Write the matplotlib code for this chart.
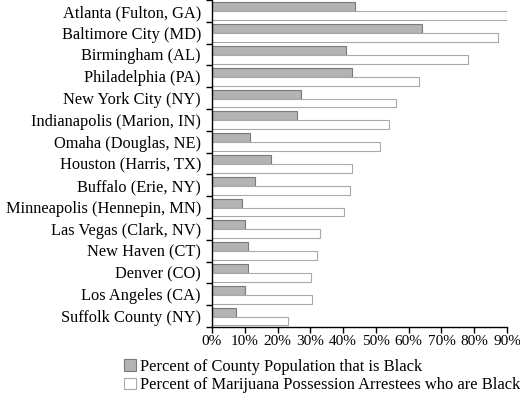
import matplotlib
matplotlib.use("Agg")
import matplotlib.pyplot as plt
import numpy as np

cities = [
    "Atlanta (Fulton, GA)",
    "Baltimore City (MD)",
    "Birmingham (AL)",
    "Philadelphia (PA)",
    "New York City (NY)",
    "Indianapolis (Marion, IN)",
    "Omaha (Douglas, NE)",
    "Houston (Harris, TX)",
    "Buffalo (Erie, NY)",
    "Minneapolis (Hennepin, MN)",
    "Las Vegas (Clark, NV)",
    "New Haven (CT)",
    "Denver (CO)",
    "Los Angeles (CA)",
    "Suffolk County (NY)",
]
pct_population = [43.7, 64.0, 41.0, 42.8, 27.0, 25.8, 11.6, 18.0, 13.0, 9.0, 10.2, 11.1, 11.1, 10.2, 7.2]
pct_arrestees = [90.0, 87.2, 78.2, 63.1, 56.1, 53.9, 51.2, 42.8, 42.2, 40.2, 33.0, 32.1, 30.3, 30.4, 23.1]
xticks = np.arange(0, 91, 10)

plt.rcParams['font.family'] = ['Liberation Serif', 'DejaVu Serif']

fig = plt.figure(figsize=(5.2, 3.95), dpi=100)
ax = fig.add_axes([212 / 520, 1 - 327 / 395, 295 / 520, 327 / 395])

y = np.arange(len(cities))
h = 0.41
ax.barh(y - h / 2 + 0.02, pct_population, height=h, color="#b3b3b3", edgecolor="#7a7a7a",
        linewidth=0.8, label="Percent of County Population that is Black")
ax.barh(y + h / 2 + 0.02, pct_arrestees, height=h, color="white", edgecolor="#a8a8a8",
        linewidth=0.8, label="Percent of Marijuana Possession Arrestees who are Black")

ax.set_ylim(len(cities) - 0.5, -0.5)
ax.set_xlim(0, 90)
ax.set_yticks(y)
ax.set_yticklabels(cities, fontsize=11.8)
ax.set_yticks(np.arange(-0.5, len(cities), 1), minor=True)
ax.tick_params(axis="y", which="major", length=0, pad=8)
ax.tick_params(axis="y", which="minor", length=4, width=1)
ax.set_xticks(xticks)
ax.set_xticklabels([f"{v}%" for v in xticks], fontsize=11)
ax.tick_params(axis="x", length=4, width=1, pad=2)

for s in ["top", "right"]:
    ax.spines[s].set_visible(False)
for s in ["left", "bottom"]:
    ax.spines[s].set_linewidth(1)

fig.legend(loc="upper left", bbox_to_anchor=(124 / 520, 1 - 359 / 395), frameon=False,
           fontsize=11.9, handlelength=0.7, handleheight=0.7, handletextpad=0.25,
           labelspacing=0.15, borderaxespad=0, borderpad=0)

fig.savefig("out.png", dpi=100)
